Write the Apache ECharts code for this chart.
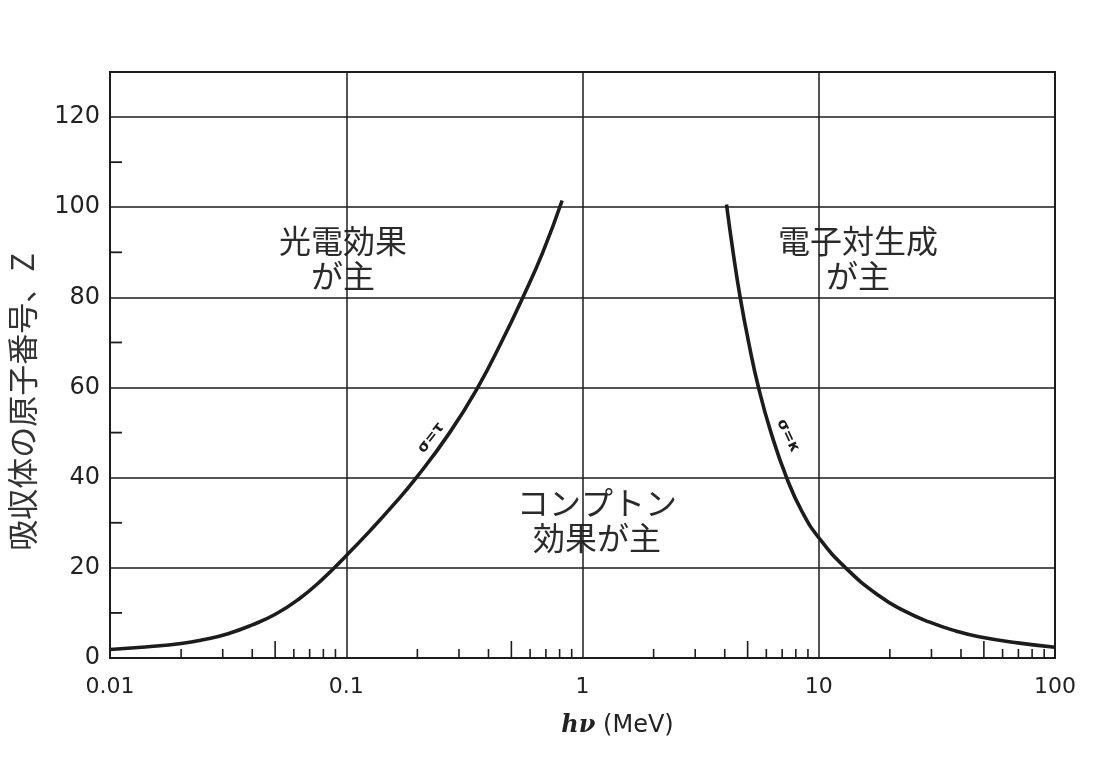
<!DOCTYPE html>
<html>
<head>
<meta charset="utf-8">
<script src="https://cdn.jsdelivr.net/npm/echarts@6/dist/echarts.min.js"></script>
<style>html,body{margin:0;padding:0;background:#fff}#c{width:1098px;height:781px}</style>
</head>
<body>
<div id="c"></div>
<script>
// ---- data ----
const xTickLabels = ['0.01', '0.1', '1', '10', '100'];
const yTickLabels = ['0', '20', '40', '60', '80', '100', '120'];
// boundary sigma = tau (photoelectric = Compton): [hν (MeV), Z]
const photoTau = [
  [0.01, 1.9], [0.0141, 2.45], [0.02, 3.2], [0.0251, 4.1], [0.0316, 5.4], [0.0398, 7.3],
  [0.0501, 9.7], [0.0631, 13.1], [0.0794, 17.5], [0.1, 22.7], [0.126, 28.2], [0.158, 33.9],
  [0.198, 40], [0.274, 50], [0.36, 60], [0.453, 70], [0.559, 80], [0.679, 90], [0.82, 101.5]
];
// boundary sigma = kappa (Compton = pair production): [hν (MeV), Z]
const pairKappa = [
  [4.07, 100.6], [4.34, 90], [4.65, 80], [5.05, 70], [5.56, 60], [6.28, 50], [7.31, 40],
  [8.49, 32.5], [10, 26.7], [13.0, 20], [18.0, 13.8], [22.9, 10.5], [29.3, 8.0], [38.0, 6.0],
  [47.7, 4.7], [70.8, 3.3], [100, 2.4]
];
const xMinorTicks = [
  0.02, 0.03, 0.04, 0.05, 0.06, 0.07, 0.08, 0.09,
  0.2, 0.3, 0.4, 0.5, 0.6, 0.7, 0.8, 0.9,
  2, 3, 4, 5, 6, 7, 8, 9,
  20, 30, 40, 50, 60, 70, 80, 90
];
const xLongMinorTicks = [0.05, 0.5, 5, 50];
const yMinorTicks = [10, 30, 50, 70, 90, 110];
const regionLabels = ['光電効果\nが主', '電子対生成\nが主', 'コンプトン\n効果が主'];
const curveLabels = ['σ=τ', 'σ=κ'];

// ---- chart ----
const chart = echarts.init(document.getElementById('c'));
const ink = '#1c1c1c';
const cjk = '"Noto Sans CJK JP", "Noto Sans", sans-serif';
const X_MIN = 0.01, X_MAX = 100;

function tickRender(kind) {
  return function (params, api) {
    if (kind === 'x') {
      const v = api.value(0);
      const p = api.coord([v, 0]);
      const isLong = xLongMinorTicks.some(t => Math.abs(t - v) < 1e-9);
      const len = isLong ? 17 : 9;
      return { type: 'line', shape: { x1: p[0], y1: p[1], x2: p[0], y2: p[1] - len },
               style: { stroke: ink, lineWidth: 1.6 } };
    } else {
      const p = api.coord([X_MIN, api.value(1)]);
      return { type: 'line', shape: { x1: p[0], y1: p[1], x2: p[0] + 12, y2: p[1] },
               style: { stroke: ink, lineWidth: 1.8 } };
    }
  };
}

chart.setOption({
  backgroundColor: '#ffffff',
  animation: false,
  grid: { left: 110, right: 43, top: 72, bottom: 123, outerBoundsMode: 'none', containLabel: false,
          show: true, borderColor: ink, borderWidth: 2, backgroundColor: 'transparent' },
  xAxis: {
    type: 'log', logBase: 10, min: X_MIN, max: X_MAX,
    name: '{i|hν} (MeV)', nameLocation: 'middle', nameGap: 56,
    nameTextStyle: {
      fontFamily: 'DejaVu Sans', fontSize: 24, color: '#222', padding: [0, 0, 0, 70],
      rich: { i: { fontFamily: 'DejaVu Serif', fontStyle: 'italic', fontWeight: 'bold', fontSize: 24, color: '#222' } }
    },
    axisLine: { show: true, lineStyle: { color: ink, width: 2 } },
    axisTick: { show: false },
    splitLine: { show: true, lineStyle: { color: ink, width: 1.5 } },
    axisLabel: {
      margin: 18, fontFamily: 'DejaVu Sans', fontSize: 22, color: '#222',
      formatter: v => xTickLabels[Math.round(Math.log10(v)) + 2] || ''
    }
  },
  yAxis: {
    type: 'value', min: 0, max: 130, interval: 20,
    name: '吸収体の原子番号、Z', nameLocation: 'middle', nameRotate: 90, nameGap: 72,
    nameTextStyle: { fontFamily: cjk, fontSize: 31, color: '#333', padding: [0, 74, 0, 0] },
    axisLine: { show: true, lineStyle: { color: ink, width: 2 } },
    axisTick: { show: false },
    splitLine: { show: true, lineStyle: { color: ink, width: 1.5 } },
    axisLabel: {
      margin: 10, fontFamily: 'DejaVu Sans', fontSize: 24, color: '#222',
      formatter: v => yTickLabels[yTickLabels.indexOf(String(v))] || ''
    }
  },
  series: [
    { type: 'line', data: photoTau, smooth: 0.5, symbol: 'none', lineStyle: { color: ink, width: 3.6 } },
    { type: 'line', data: pairKappa, smooth: 0.5, symbol: 'none', lineStyle: { color: ink, width: 3.6 } },
    { type: 'custom', data: xMinorTicks.map(v => [v, 0]), renderItem: tickRender('x'), clip: false, silent: true },
    { type: 'custom', data: yMinorTicks.map(v => [X_MIN, v]), renderItem: tickRender('y'), clip: false, silent: true }
  ],
  graphic: [
    { type: 'text', x: 343, y: 258, style: { text: regionLabels[0], font: '32px ' + cjk, fill: '#2a2a2a', textAlign: 'center', textVerticalAlign: 'middle', lineHeight: 35 } },
    { type: 'text', x: 858, y: 258, style: { text: regionLabels[1], font: '32px ' + cjk, fill: '#2a2a2a', textAlign: 'center', textVerticalAlign: 'middle', lineHeight: 35 } },
    { type: 'text', x: 597, y: 520, style: { text: regionLabels[2], font: '32px ' + cjk, fill: '#2a2a2a', textAlign: 'center', textVerticalAlign: 'middle', lineHeight: 35 } },
    { type: 'text', x: 431, y: 438, rotation: 0.91, style: { text: curveLabels[0], font: 'bold 15px "DejaVu Sans"', fill: ink, textAlign: 'center', textVerticalAlign: 'middle' } },
    { type: 'text', x: 788, y: 436, rotation: -1.13, style: { text: curveLabels[1], font: 'bold 15px "DejaVu Sans"', fill: ink, textAlign: 'center', textVerticalAlign: 'middle' } }
  ]
});
</script>
</body>
</html>
